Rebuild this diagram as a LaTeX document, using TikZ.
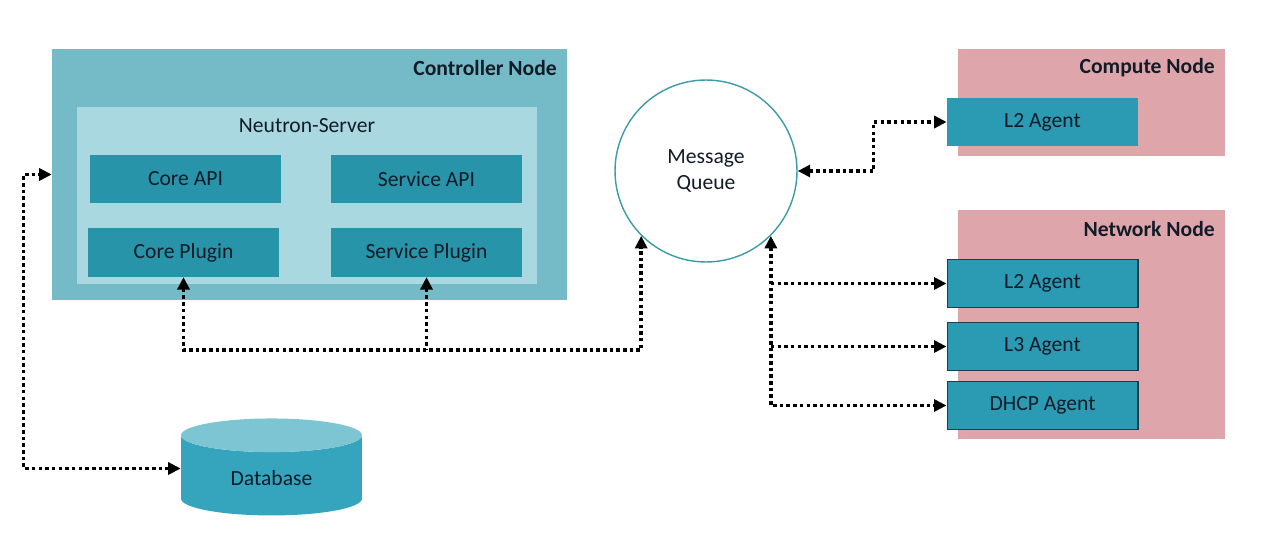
\documentclass[tikz,border=0pt]{standalone}
\usepackage{fontspec}
\setmainfont{Carlito}
\usetikzlibrary{arrows.meta,shapes.geometric}
\definecolor{ctrlfill}{RGB}{116,187,199}
\definecolor{srvfill}{RGB}{169,216,225}
\definecolor{boxfill}{RGB}{39,148,170}
\definecolor{agentfill}{RGB}{43,154,179}
\definecolor{agentline}{RGB}{30,60,75}
\definecolor{hostfill}{RGB}{222,166,171}
\definecolor{mqline}{RGB}{58,156,168}
\definecolor{dbbody}{RGB}{53,164,189}
\definecolor{dbtop}{RGB}{126,197,211}
\definecolor{ink}{RGB}{18,28,40}

\begin{document}
\begin{tikzpicture}[x=0.02cm,y=-0.02cm,>={Triangle[length=2.5mm,width=2.4mm]},
  every node/.style={text=ink,font=\fontsize{12.3}{15}\selectfont},
  title/.style={anchor=east,font=\fontsize{12.3}{14}\selectfont\bfseries},
  part/.style={fill=boxfill,minimum width=3.82cm,minimum height=0.97cm},
  agent/.style={fill=agentfill,draw=agentline,line width=0.6pt,
  minimum width=3.82cm,minimum height=0.97cm},
  host/.style={fill=hostfill,minimum width=5.34cm},
  edge/.style={<->,line width=2pt,dash pattern=on 2pt off 1.8pt}]
\useasboundingbox (0,0) rectangle (1273,548);
\node[fill=ctrlfill,minimum width=10.3cm,minimum height=5.02cm] (ctrl) at (309.5,174.5) {};
\node[title] (ctrltitle) at (563,68) {Controller Node};
\node[fill=srvfill,minimum width=9.2cm,minimum height=3.54cm] (srv) at (307,195.5) {};
\node (srvtitle) at (307,126) {Neutron-Server};
\node[part] (coreapi) at (185.5,179) {Core API};
\node[part] (servapi) at (426.5,179) {Service API};
\node[part] (coreplug) at (183.5,252.5) {Core Plugin};
\node[part] (servplug) at (426.5,252.5) {Service Plugin};
\node[circle,draw=mqline,line width=0.8pt,fill=white,minimum size=3.64cm,align=center] (mq) at (706,171) {Message\\Queue};
\node[host,minimum height=2.14cm] (compute) at (1091.5,102.5) {};
\node[title] (computetitle) at (1221,68) {Compute Node};
\node[part,fill=agentfill] (cl2) at (1042.5,122) {L2 Agent};
\node[host,minimum height=4.58cm] (network) at (1091.5,324.5) {};
\node[title] (networktitle) at (1221,229) {Network Node};
\node[agent] (l2) at (1042.5,283.5) {L2 Agent};
\node[agent] (l3) at (1042.5,346.5) {L3 Agent};
\node[agent] (dhcp) at (1042.5,405.5) {DHCP Agent};
\node[cylinder,shape border rotate=90,aspect=0.36,minimum width=3.62cm,minimum height=1.94cm,
  cylinder uses custom fill,cylinder body fill=dbbody,cylinder end fill=dbtop] (db) at (271.5,478.5) {Database};
% connectors
\draw[edge] ([yshift=0.2cm]db.west) -- ++(-157,0) |- (ctrl.west);
\coordinate (bus) at (0,350);
\draw[edge] (coreplug.south) |- (bus -| mq.south west) -- (mq.south west);
\draw[edge,<-] (servplug.south) -- (servplug.south |- bus);
\draw[edge] (mq.east) -- ++(76,0) |- (cl2.west);
\draw[edge] (mq.south east) |- (dhcp.west);
\draw[edge,->] (mq.south east |- l2.west) -- (l2.west);
\draw[edge,->] (mq.south east |- l3.west) -- (l3.west);
\end{tikzpicture}
\end{document}
